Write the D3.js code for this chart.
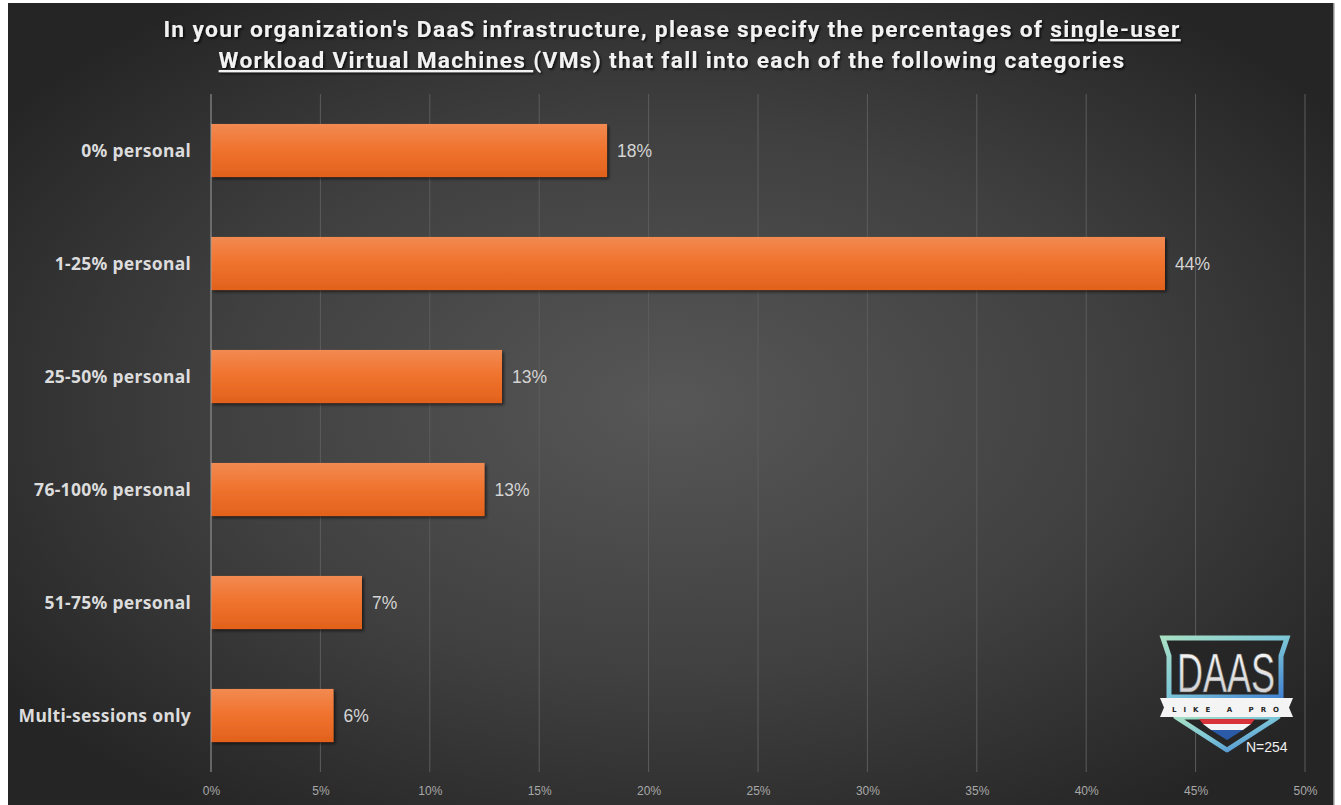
<!DOCTYPE html>
<html>
<head>
<meta charset="utf-8">
<script src="https://cdn.jsdelivr.net/npm/d3@7"></script>
<style>
  html, body { margin: 0; padding: 0; background: #ffffff; }
  svg { display: block; }
</style>
</head>
<body>
<svg id="chart" width="1341" height="805"></svg>
<script>
// Survey answers: share of single-user workload VMs per category
const categories = ["0% personal", "1-25% personal", "25-50% personal", "76-100% personal", "51-75% personal", "Multi-sessions only"];
const values = [0.181, 0.436, 0.133, 0.125, 0.069, 0.056];
const tickValues = [0, 0.05, 0.10, 0.15, 0.20, 0.25, 0.30, 0.35, 0.40, 0.45, 0.50];
const titleLines = [
  [["In your organization's DaaS infrastructure, please specify the percentages of ", false], ["single-user", true]],
  [["Workload Virtual Machines ", true], ["(VMs) that fall into each of the following categories", false]]
];
const sampleNote = "N=254";

const W = 1341, H = 805;
const svg = d3.select("#chart");
const defs = svg.append("defs");

// Dark panel with a soft central glow
const bg = defs.append("radialGradient").attr("id", "bgGrad")
  .attr("cx", "50%").attr("cy", "50%").attr("r", "62%");
bg.append("stop").attr("offset", "0%").attr("stop-color", "#575757");
bg.append("stop").attr("offset", "55%").attr("stop-color", "#404040");
bg.append("stop").attr("offset", "100%").attr("stop-color", "#252525");

const barGrad = defs.append("linearGradient").attr("id", "barGrad")
  .attr("x1", 0).attr("y1", 0).attr("x2", 0).attr("y2", 1);
barGrad.append("stop").attr("offset", "0%").attr("stop-color", "#f28a52");
barGrad.append("stop").attr("offset", "45%").attr("stop-color", "#f0742f");
barGrad.append("stop").attr("offset", "100%").attr("stop-color", "#e2611c");

const shadow = defs.append("filter").attr("id", "barShadow")
  .attr("x", "-5%").attr("y", "-10%").attr("width", "115%").attr("height", "140%");
shadow.append("feDropShadow").attr("dx", 2).attr("dy", 2).attr("stdDeviation", 1.5)
  .attr("flood-color", "#000").attr("flood-opacity", 0.55);

const titleShadow = defs.append("filter").attr("id", "titleShadow")
  .attr("x", "-5%").attr("y", "-30%").attr("width", "110%").attr("height", "160%");
titleShadow.append("feDropShadow").attr("dx", 1.5).attr("dy", 1.5).attr("stdDeviation", 1)
  .attr("flood-color", "#000").attr("flood-opacity", 0.8);

svg.append("rect").attr("x", 8).attr("y", 3).attr("width", 1326).attr("height", H - 3)
  .attr("fill", "url(#bgGrad)");
svg.append("rect").attr("x", 1333).attr("y", 3).attr("width", 1.5).attr("height", H - 3)
  .attr("fill", "#8a8a8a");

// Scales
const x = d3.scaleLinear().domain([0, 0.5]).range([211, 1305]);
const y = d3.scaleBand().domain(categories).range([94, 772])
  .paddingInner(0.53).paddingOuter(0.265);

// Vertical gridlines
svg.append("g").selectAll("line").data(tickValues.filter(d => d > 0)).join("line")
  .attr("x1", d => x(d)).attr("x2", d => x(d))
  .attr("y1", 94).attr("y2", 772)
  .attr("stroke", "#5c5c5c").attr("stroke-width", 1);

// Tick labels along the bottom
const xAxis = d3.axisBottom(x).tickValues(tickValues).tickFormat(d3.format(".0%")).tickSize(0).tickPadding(0);
const axisG = svg.append("g").attr("transform", "translate(0,786)").call(xAxis);
axisG.select(".domain").remove();
axisG.selectAll("text")
  .attr("fill", "#a8a8a8")
  .attr("font-family", "'Liberation Sans', Arial, sans-serif")
  .attr("font-size", 12);

// Bars
svg.append("g").selectAll("rect").data(values).join("rect")
  .attr("x", x(0))
  .attr("y", (d, i) => y(categories[i]))
  .attr("width", d => x(d) - x(0))
  .attr("height", y.bandwidth())
  .attr("fill", "url(#barGrad)")
  .attr("filter", "url(#barShadow)");

// Category axis line at 0%
svg.append("line").attr("x1", x(0)).attr("x2", x(0)).attr("y1", 94).attr("y2", 772)
  .attr("stroke", "#a0a0a0").attr("stroke-width", 1);

// Category labels
svg.append("g").selectAll("text").data(categories).join("text")
  .attr("x", 191)
  .attr("y", d => y(d) + y.bandwidth() / 2)
  .attr("dy", "0.35em")
  .attr("text-anchor", "end")
  .attr("fill", "#dcdcdc")
  .attr("font-family", "'Noto Sans', 'Open Sans', sans-serif")
  .attr("font-weight", 700)
  .attr("font-size", 17.5)
  .attr("letter-spacing", 0.3)
  .text(d => d);

// Value labels
svg.append("g").selectAll("text").data(values).join("text")
  .attr("x", d => x(d) + 10)
  .attr("y", (d, i) => y(categories[i]) + y.bandwidth() / 2)
  .attr("dy", "0.36em")
  .attr("fill", "#d4d4d4")
  .attr("font-family", "'Liberation Sans', Arial, sans-serif")
  .attr("font-size", 17.5)
  .text(d => d3.format(".0%")(d));

// Title, two centred lines with underlined phrases, horizontally condensed
const titleWidths = [1018, 907];
titleLines.forEach((parts, li) => {
  const g = svg.append("g").attr("filter", "url(#titleShadow)");
  const t = g.append("text")
    .attr("x", 0).attr("y", 0)
    .attr("text-anchor", "middle")
    .attr("fill", "#f2f2f2")
    .attr("font-family", "Roboto, 'Noto Sans', sans-serif")
    .attr("font-weight", 700)
    .attr("font-size", 22.5)
    .attr("letter-spacing", 1.3);
  parts.forEach(([s, u]) => {
    t.append("tspan").text(s).style("text-decoration", u ? "underline" : "none");
  });
  const w = t.node().getComputedTextLength();
  t.attr("transform", `translate(672,${37 + li * 31}) scale(${titleWidths[li] / w},1)`);
});

// Badge in the lower right corner
const logo = svg.append("g");
const rim = defs.append("linearGradient").attr("id", "rimGrad")
  .attr("x1", 0).attr("y1", 0).attr("x2", 1).attr("y2", 1);
rim.append("stop").attr("offset", "0%").attr("stop-color", "#a8e0c4");
rim.append("stop").attr("offset", "50%").attr("stop-color", "#7cc6d8");
rim.append("stop").attr("offset", "100%").attr("stop-color", "#3f7fd0");
const silver = defs.append("linearGradient").attr("id", "silverGrad")
  .attr("x1", 0).attr("y1", 0).attr("x2", 0).attr("y2", 1);
silver.append("stop").attr("offset", "0%").attr("stop-color", "#ffffff");
silver.append("stop").attr("offset", "100%").attr("stop-color", "#c8c8c8");

// upper shield frame
logo.append("path")
  .attr("d", "M1163,638 L1287,638 L1281,656 L1281,697 L1169,697 L1169,656 Z")
  .attr("fill", "#262626").attr("stroke", "url(#rimGrad)").attr("stroke-width", 5)
  .attr("stroke-linejoin", "miter");
// lower V of the shield
logo.append("path")
  .attr("d", "M1176,717 L1278,717 L1227,750 Z")
  .attr("fill", "#262626").attr("stroke", "url(#rimGrad)").attr("stroke-width", 5)
  .attr("stroke-linejoin", "round");
// Dutch flag tip
logo.append("path").attr("d", "M1199,719 L1255,719 L1251,724 L1203,724 Z").attr("fill", "#d8323a");
logo.append("path").attr("d", "M1203,724 L1251,724 L1243,730 L1211,730 Z").attr("fill", "#f4f4f4");
logo.append("path").attr("d", "M1211,730 L1243,730 L1227,740 Z").attr("fill", "#2a5aa8");
// banner
logo.append("path")
  .attr("d", "M1160,698 L1293,698 L1289,707.5 L1293,717 L1160,717 L1164,707.5 Z")
  .attr("fill", "#f4f4f4");
logo.append("text").attr("x", 1229).attr("y", 711.5).attr("text-anchor", "middle")
  .attr("font-family", "'DejaVu Sans', sans-serif").attr("font-weight", 700)
  .attr("font-size", 7).attr("letter-spacing", 7).attr("fill", "#262626")
  .text("LIKE A PRO");
logo.append("text").attr("x", 1226).attr("y", 692)
  .attr("text-anchor", "middle")
  .attr("textLength", 98).attr("lengthAdjust", "spacingAndGlyphs")
  .attr("font-family", "'Liberation Sans', Arial, sans-serif")
  .attr("font-size", 56).attr("fill", "url(#silverGrad)")
  .attr("stroke", "#555").attr("stroke-width", 0.6)
  .text("DAAS");
logo.append("text").attr("x", 1246).attr("y", 752)
  .attr("font-family", "'Liberation Sans', Arial, sans-serif")
  .attr("font-size", 14).attr("fill", "#f0f0f0")
  .text(sampleNote);
</script>
</body>
</html>
